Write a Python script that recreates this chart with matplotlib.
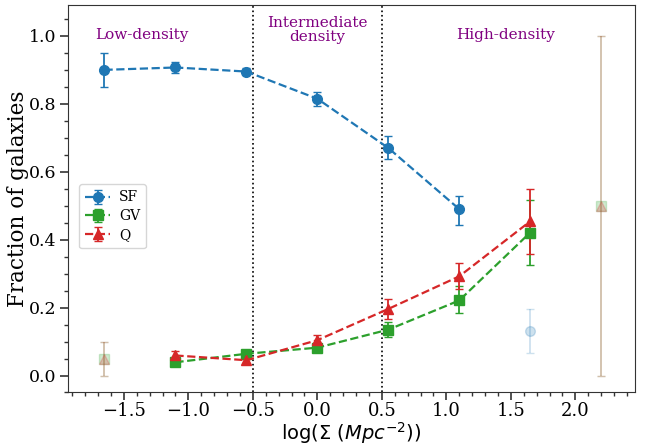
import numpy as np
import matplotlib
matplotlib.use("Agg")
import matplotlib.pyplot as plt
from matplotlib.ticker import MultipleLocator

plt.rcParams['font.family'] = ['DejaVu Serif']
plt.rcParams['mathtext.fontset'] = 'dejavusans'

# log surface density bins
x_sf = [-1.65, -1.1, -0.55, 0.0, 0.55, 1.1]
sf = [0.900, 0.907, 0.895, 0.815, 0.670, 0.490]
sf_lo = [0.050, 0.017, 0.011, 0.020, 0.032, 0.047]
sf_hi = [0.050, 0.017, 0.011, 0.020, 0.034, 0.039]

x_gq = [-1.1, -0.55, 0.0, 0.55, 1.1, 1.65]
gv = [0.039, 0.064, 0.082, 0.135, 0.221, 0.421]
gv_lo = [0.008, 0.010, 0.011, 0.022, 0.037, 0.097]
gv_hi = [0.008, 0.010, 0.011, 0.022, 0.042, 0.097]
q = [0.059, 0.045, 0.104, 0.196, 0.292, 0.454]
q_lo = [0.012, 0.009, 0.015, 0.030, 0.037, 0.097]
q_hi = [0.012, 0.009, 0.015, 0.030, 0.039, 0.096]

# poorly sampled bins (drawn faint)
x_sf_faint = [1.65]
sf_faint = [0.130]
sf_faint_err = [0.065]
x_gq_faint = [-1.65, 2.2]
gq_faint = [0.05, 0.5]
gq_faint_err = [0.05, 0.5]

fig, ax = plt.subplots(figsize=(6.45, 4.45), dpi=100)
fig.subplots_adjust(left=0.105, right=0.985, bottom=0.118, top=0.988)

c_sf, c_gv, c_q = '#1f77b4', '#2ca02c', '#d62728'
kw = dict(ls='--', capsize=3, markersize=7, lw=1.6, elinewidth=1.3)
ax.errorbar(x_sf, sf, yerr=[sf_lo, sf_hi], color=c_sf, marker='o', label='SF', **kw)
ax.errorbar(x_gq, gv, yerr=[gv_lo, gv_hi], color=c_gv, marker='s', label='GV', **kw)
ax.errorbar(x_gq, q, yerr=[q_lo, q_hi], color=c_q, marker='^', label='Q', **kw)

fk = dict(ls='none', capsize=3, markersize=7, elinewidth=1.3, alpha=0.22)
ax.errorbar(x_sf_faint, sf_faint, yerr=sf_faint_err, color=c_sf, marker='o', **fk)
ax.errorbar(x_gq_faint, gq_faint, yerr=gq_faint_err, color=c_gv, marker='s', **fk)
ax.errorbar(x_gq_faint, gq_faint, yerr=gq_faint_err, color=c_q, marker='^', **fk)

for xv in (-0.5, 0.5):
    ax.axvline(xv, color='black', ls=':', lw=1.2)

tc = '#800080'
ax.text(-1.36, 1.003, 'Low-density', color=tc, fontsize=11, ha='center', va='center')
ax.text(0.0, 1.018, 'Intermediate\ndensity', color=tc, fontsize=11, ha='center', va='center',
        linespacing=1.0)
ax.text(1.46, 1.003, 'High-density', color=tc, fontsize=11, ha='center', va='center')

ax.set_xlim(-1.935, 2.465)
ax.set_ylim(-0.05, 1.09)
ax.xaxis.set_major_locator(MultipleLocator(0.5))
ax.xaxis.set_minor_locator(MultipleLocator(0.1))
ax.yaxis.set_major_locator(MultipleLocator(0.2))
ax.yaxis.set_minor_locator(MultipleLocator(0.05))
ax.tick_params(which='major', length=6, width=1.2, labelsize=13, colors='#333333',
               labelcolor='black')
ax.tick_params(axis='x', which='major', pad=0.5)
ax.tick_params(axis='y', which='major', pad=2, labelsize=12.5)
ax.tick_params(which='minor', length=3, width=1.0, colors='#333333')
for s in ax.spines.values():
    s.set_color('#333333')

ax.set_xlabel(r'log($\Sigma$ ($Mpc^{-2}$))', fontsize=14, family='DejaVu Sans')
ax.set_ylabel('Fraction of galaxies', fontsize=15.5)
ax.xaxis.set_label_coords(0.5, -0.072)
ax.yaxis.set_label_coords(-0.068, 0.5)

ax.legend(loc='center left', bbox_to_anchor=(0.008, 0.455), fontsize=10,
          handlelength=1.8, borderpad=0.45, labelspacing=0.35, handletextpad=0.6)

fig.savefig('out.png', dpi=100)
